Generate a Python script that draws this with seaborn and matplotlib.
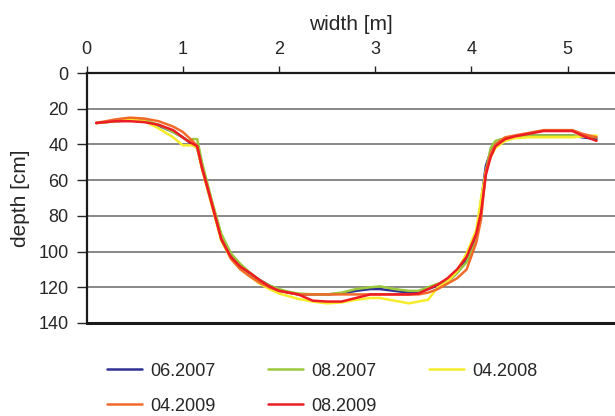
import numpy as np
import pandas as pd
import matplotlib
matplotlib.use("Agg")
import matplotlib.pyplot as plt
import seaborn as sns

# cross-section profile, width [m] along the transect
width = [0.1, 0.3, 0.45, 0.6, 0.75, 0.9, 1.0, 1.05, 1.1, 1.15, 1.2, 1.3, 1.4, 1.5,
         1.6, 1.7, 1.8, 1.9, 2.0, 2.1, 2.2, 2.35, 2.5, 2.65, 2.8, 2.95, 3.05, 3.2,
         3.35, 3.45, 3.55, 3.65, 3.75, 3.85, 3.95, 4.05, 4.1, 4.15, 4.2, 4.25, 4.35,
         4.45, 4.6, 4.75, 4.9, 5.05, 5.15, 5.3]

depth_06_2007 = [28, 27, 26.5, 27, 29.5, 33, 36, 38, 40, 42, 53, 73, 92, 102,
                 108, 112.5, 116, 119, 121.5, 123, 124, 124, 124, 123.5, 122, 121, 121, 122,
                 123, 123, 121, 119, 117, 112, 104, 92, 72, 52, 44, 40, 37,
                 36, 35, 35, 35, 35, 36, 37]
depth_08_2007 = [28, 27, 26, 26.5, 29, 33, 36, 38, 37, 37, 50, 71, 90, 101,
                 107, 112, 116, 119, 121, 122.5, 123.5, 124, 124, 123, 121, 120, 119.5, 121,
                 122, 122, 120, 118, 117, 112, 106, 94, 75, 55, 42, 38, 36.5,
                 36, 35, 35, 35, 35, 35.5, 36]
depth_04_2008 = [28, 27, 26, 27, 31, 36, 40.5, 40.5, 40.5, 42, 54, 74, 94, 104,
                 110, 114, 118, 121, 123.5, 125, 126.5, 128, 129, 128.5, 127, 126, 126, 127.5,
                 129, 128, 127, 120, 117, 111, 101, 88, 70, 55, 47, 42, 38,
                 36.5, 36, 36, 36, 36, 35.5, 35]
depth_04_2009 = [28, 26, 25, 25.5, 27, 30, 33, 35.5, 38, 41, 53, 72, 93, 104,
                 110, 114, 117.5, 120, 122, 123, 124, 124, 124, 124, 124, 124, 124, 124,
                 124, 124, 123, 121, 118, 115, 110, 95, 82, 55, 45, 40, 36,
                 35, 33.5, 32, 32, 32, 34, 36]
depth_08_2009 = [28, 27, 27, 27.5, 29, 32, 36, 38, 39.5, 41, 53, 73, 93, 103,
                 108.5, 112, 116, 119.5, 122, 123, 124, 127.5, 128, 128, 126, 124, 124, 124,
                 124, 123.5, 121, 118.5, 115, 110, 103, 90, 78, 57, 47, 41, 37,
                 35.5, 34, 32.5, 32.5, 32.5, 35, 38]

series_names = ["06.2007", "08.2007", "04.2008", "04.2009", "08.2009"]
series_depths = [depth_06_2007, depth_08_2007, depth_04_2008, depth_04_2009, depth_08_2009]
colors = ["#2E3192", "#9BC83C", "#F7EC2A", "#F26A2A", "#ED1C24"]

x_ticks = [0, 1, 2, 3, 4, 5]
y_ticks = [0, 20, 40, 60, 80, 100, 120, 140]

frames = []
for name, d in zip(series_names, series_depths):
    frames.append(pd.DataFrame({"width": width, "depth": d, "survey": name}))
df = pd.concat(frames, ignore_index=True)

sns.set_style("white")
plt.rcParams["font.family"] = ["Liberation Sans", "DejaVu Sans"]
plt.rcParams["font.size"] = 13

fig = plt.figure(figsize=(6.15, 4.16), dpi=100)
ax = fig.add_axes([0.1407, 0.2236, 0.859, 0.6009])

sns.lineplot(data=df, x="width", y="depth", hue="survey", hue_order=series_names,
             palette=colors, sort=False, linewidth=1.8, ax=ax, legend=False)

ax.set_xlim(0, 5.49)
ax.set_ylim(140, 0)
ax.set_xticks(x_ticks)
ax.set_yticks(y_ticks)
ax.xaxis.tick_top()
ax.xaxis.set_label_position("top")
ax.set_xlabel("width [m]", fontsize=15, labelpad=8)
ax.set_ylabel("depth [cm]", fontsize=15, labelpad=6)
ax.tick_params(axis="x", direction="out", length=5, width=1, pad=6, labelsize=13, top=True, bottom=False)
ax.tick_params(axis="y", direction="out", length=7, width=1, pad=6, labelsize=13, left=True)

for yv in y_ticks[1:-1]:
    ax.axhline(yv, color="#7f7f7f", lw=1.3, zorder=0)

ax.spines["right"].set_visible(False)
ax.spines["top"].set_linewidth(1.6)
ax.spines["bottom"].set_linewidth(2.2)
ax.spines["left"].set_linewidth(1.6)
for side in ["top", "bottom", "left"]:
    ax.spines[side].set_color("#1a1a1a")

handles = [plt.Line2D([], [], color=c, lw=1.8) for c in colors]
order = [0, 3, 1, 4, 2]
fig.legend([handles[i] for i in order], [series_names[i] for i in order],
           loc="upper left", bbox_to_anchor=(0.174, 0.128), ncol=3, frameon=False,
           fontsize=13, handlelength=1.95, handletextpad=0.45, columnspacing=2.9,
           labelspacing=1.0, borderaxespad=0, borderpad=0)

fig.savefig("out.png", dpi=100)
